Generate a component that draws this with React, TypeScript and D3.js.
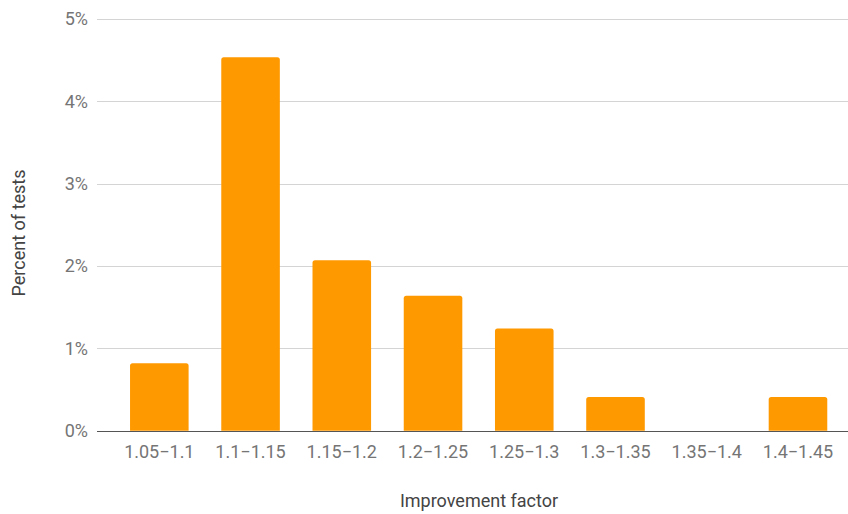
import React from "react";
import * as d3 from "d3";

const categories = ["1.05−1.1", "1.1−1.15", "1.15−1.2", "1.2−1.25", "1.25−1.3", "1.3−1.35", "1.35−1.4", "1.4−1.45"];
const percentValues = [0.82, 4.535, 2.07, 1.64, 1.24, 0.41, 0, 0.41];
const yTicks = [0, 1, 2, 3, 4, 5];
const xTitle = "Improvement factor";
const yTitle = "Percent of tests";

export default function App() {
  const width = 848;
  const height = 514;
  const plotLeft = 97;
  const plotRight = 848;
  const y = d3.scaleLinear().domain([0, 5]).range([430.7, 19]);
  const x = d3
    .scaleBand<string>()
    .domain(categories)
    .range([113.7, 843.6])
    .paddingInner(0.358)
    .paddingOuter(0.179);
  const font = "Roboto, 'Noto Sans', sans-serif";

  return (
    <svg
      width={width}
      height={height}
      style={{ position: "absolute", left: 0, top: 0, background: "#fff" }}
    >
      {yTicks.map((t) =>
        t === 0 ? null : (
          <line
            key={"g" + t}
            x1={plotLeft}
            x2={plotRight}
            y1={Math.round(y(t)) + 0.5}
            y2={Math.round(y(t)) + 0.5}
            stroke="#d4d4d4"
            strokeWidth={1}
          />
        )
      )}
      {yTicks.map((t) => (
        <text
          key={"yl" + t}
          x={88}
          y={y(t)}
          dy="0.35em"
          textAnchor="end"
          fontFamily={font}
          fontSize={18}
          fill="#757575"
        >
          {t + "%"}
        </text>
      ))}
      {categories.map((c, i) => {
        const v = percentValues[i];
        const top = y(v);
        const h = y(0) - top;
        if (h <= 0) return null;
        return (
          <path
            key={"b" + c}
            d={(() => {
              const x0 = x(c)!;
              const w = x.bandwidth();
              const r = Math.min(2.5, h / 2);
              const yb = y(0);
              return `M${x0},${yb} L${x0},${top + r} Q${x0},${top} ${x0 + r},${top} L${x0 + w - r},${top} Q${x0 + w},${top} ${x0 + w},${top + r} L${x0 + w},${yb} Z`;
            })()}
            fill="#ff9900"
          />
        );
      })}
      <line
        x1={plotLeft}
        x2={plotRight}
        y1={Math.round(y(0)) + 0.5}
        y2={Math.round(y(0)) + 0.5}
        stroke="#555"
        strokeWidth={1.2}
      />
      {categories.map((c) => (
        <text
          key={"xl" + c}
          x={x(c)! + x.bandwidth() / 2}
          y={458}
          textAnchor="middle"
          fontFamily={font}
          fontSize={18}
          fill="#757575"
        >
          {c}
        </text>
      ))}
      <text
        x={479}
        y={507}
        textAnchor="middle"
        fontFamily={font}
        fontSize={18}
        fill="#444"
      >
        {xTitle}
      </text>
      <text
        transform={`translate(25,233) rotate(-90)`}
        textAnchor="middle"
        fontFamily={font}
        fontSize={18}
        fill="#444"
      >
        {yTitle}
      </text>
    </svg>
  );
}
